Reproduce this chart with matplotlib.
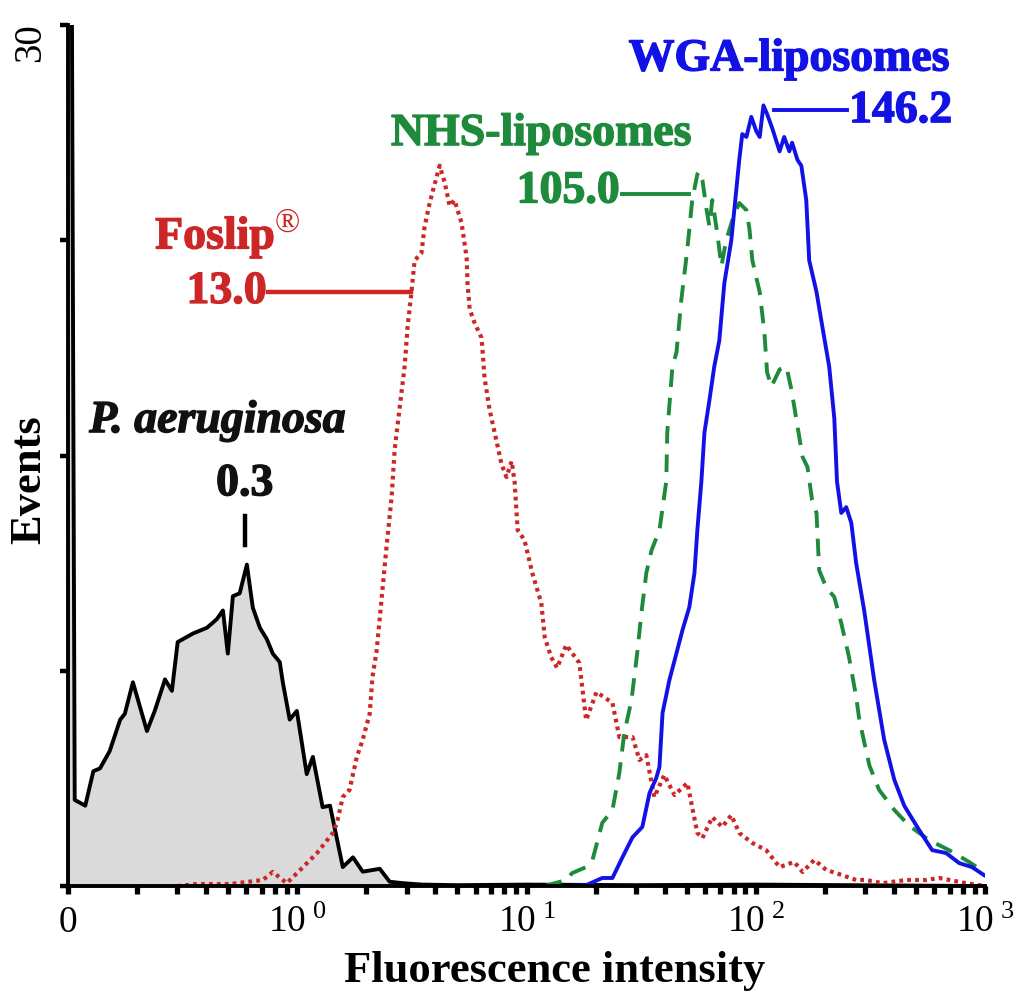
import matplotlib
matplotlib.use("Agg")
import matplotlib.pyplot as plt
import matplotlib.transforms as mtransforms
import matplotlib.patheffects as pe
from matplotlib.ticker import LogLocator, NullFormatter

plt.rcParams["font.family"] = ["Liberation Serif", "DejaVu Serif"]
plt.rcParams["mathtext.fontset"] = "custom"
plt.rcParams["mathtext.rm"] = "Liberation Serif"
plt.rcParams["mathtext.it"] = "Liberation Serif:italic"
plt.rcParams["mathtext.bf"] = "Liberation Serif:bold"

# P. aeruginosa (untreated) histogram
pa_x = [0.1, 0.104, 0.107, 0.119, 0.129, 0.138, 0.152, 0.169, 0.177, 0.192,
        0.221, 0.239, 0.265, 0.284, 0.301, 0.351, 0.404, 0.446, 0.474, 0.498,
        0.524, 0.561, 0.603, 0.640, 0.687, 0.737, 0.782, 0.839, 0.865, 0.927,
        0.996, 1.10, 1.17, 1.29, 1.39, 1.58, 1.75, 1.93, 2.29, 2.53,
        2.88, 3.5, 5.0, 10.0, 30.0, 100.0, 1000.0]
pa_y = [31.0, 31.0, 3.0, 2.8, 4.0, 4.1, 4.7, 5.8, 6.0, 7.1,
        5.4, 6.1, 7.2, 6.8, 8.5, 8.8, 9.0, 9.3, 9.6, 8.1,
        10.1, 10.2, 11.2, 9.7, 9.0, 8.6, 8.1, 7.8, 7.1, 5.8,
        6.1, 3.9, 4.5, 2.75, 2.8, 0.66, 1.0, 0.5, 0.6, 0.15,
        0.1, 0.05, 0.03, 0.05, 0.03, 0.05, 0.0]

# Foslip
fos_x = [0.30, 0.365, 0.508, 0.708, 0.782, 0.900, 1.03, 1.22, 1.43, 1.49,
         1.58, 1.69, 1.82, 1.93, 2.07, 2.13, 2.22, 2.45, 2.58, 2.66,
         2.80, 2.94, 3.03, 3.15, 3.25, 3.48, 3.59, 3.78, 4.05, 4.18,
         4.40, 4.62, 4.85, 5.21, 5.48, 5.53, 5.65, 5.95, 6.37, 6.56,
         6.90, 7.26, 7.78, 8.18, 8.61, 8.87, 9.15, 9.80, 10.6, 11.6,
         12.0, 12.8, 13.6, 14.9, 17.0, 18.2, 20.2, 23.7, 25.4, 29.0,
         31.1, 33.3, 36.1, 39.9, 44.2, 50.3, 55.6, 58.5, 64.6, 71.4,
         78.2, 84.7, 96.6, 111, 127, 147, 160, 180, 203, 238,
         274, 303, 356, 453, 553, 631, 826, 1000]
fos_y = [0.0, 0.07, 0.07, 0.21, 0.49, 0.10, 0.56, 1.15, 1.85, 2.2,
         3.1, 3.35, 4.5, 5.1, 6.0, 7.3, 8.2, 11.8, 13.55, 15.2,
         16.7, 18.1, 19.5, 20.7, 21.8, 22.05, 22.96, 23.8, 24.7, 25.1,
         24.5, 23.7, 23.9, 23.1, 21.9, 21.0, 20.1, 19.6, 19.1, 17.7,
         16.6, 15.8, 14.7, 14.25, 14.8, 14.1, 12.4, 12.05, 10.9, 9.86,
         8.68, 7.98, 7.6, 8.4, 7.77, 5.78, 6.76, 6.38, 5.19, 5.19,
         4.39, 4.56, 3.10, 3.87, 3.17, 3.59, 1.85, 1.67, 2.40, 2.06,
         2.47, 1.85, 1.50, 1.25, 0.66, 0.84, 0.49, 0.91, 0.56, 0.38,
         0.21, 0.21, 0.10, 0.21, 0.21, 0.28, 0.10, 0.0]

# NHS-liposomes
nhs_x = [12.0, 14.9, 15.8, 18.2, 19.4, 21.4, 23.7, 25.4, 26.7, 28.7,
         30.5, 31.7, 33.3, 35.1, 38.0, 40.7, 41.1, 43.3, 45.1, 47.3,
         50.3, 52.8, 55.6, 56.7, 58.5, 60.9, 62.7, 64.6, 67.9, 70.8,
         74.3, 79.0, 84.7, 91.0, 93.8, 96.6, 100.5, 104, 109, 112,
         117, 127, 136, 143, 150, 160, 168, 176, 184, 189,
         203, 220, 236, 255, 274, 283, 313, 345, 402, 467,
         570, 697, 851, 990]
nhs_y = [0.0, 0.21, 0.45, 0.66, 0.91, 2.2, 2.65, 3.94, 5.33, 6.48,
         8.22, 9.51, 10.9, 11.7, 12.4, 14.1, 15.8, 18.1, 18.6, 20.4,
         22.2, 23.9, 24.8, 24.9, 24.6, 23.6, 23.0, 23.9, 22.75, 21.6,
         22.5, 23.2, 23.8, 23.55, 22.9, 21.8, 21.2, 20.7, 19.3, 17.9,
         17.4, 18.0, 18.1, 17.3, 16.3, 14.95, 14.6, 13.45, 13.0, 11.0,
         10.4, 10.07, 9.16, 7.98, 6.59, 5.78, 4.2, 3.35, 2.65, 2.1,
         1.6, 1.25, 0.84, 0.49]

# WGA-liposomes
wga_x = [15.0, 18.2, 21.4, 23.7, 26.2, 29.0, 32.0, 34.4, 36.8, 38.0,
         39.2, 42.0, 45.1, 47.9, 51.3, 54.0, 55.6, 57.9, 59.7, 62.7,
         65.9, 69.3, 72.9, 78.2, 84.7, 87.3, 91.0, 95.6, 100.5, 104,
         108, 112, 118, 127, 133, 140, 144, 152, 158, 166,
         171, 184, 195, 209, 220, 226, 236, 248, 261, 274,
         297, 328, 363, 402, 444, 516, 588, 676, 771, 877, 990]
wga_y = [0.0, 0.03, 0.28, 0.28, 1.0, 1.7, 2.06, 3.24, 3.76, 4.15,
         6.03, 7.18, 8.12, 8.92, 9.72, 10.9, 12.4, 14.1, 15.8, 16.9,
         18.1, 19.0, 21.0, 22.5, 25.3, 26.2, 26.1, 26.8, 26.3, 26.1,
         27.2, 26.9, 26.4, 25.6, 26.1, 25.6, 25.9, 25.3, 25.1, 23.9,
         21.8, 20.7, 19.5, 18.1, 16.3, 14.1, 13.0, 13.2, 12.65, 11.25,
         9.6, 7.2, 5.1, 3.7, 2.8, 1.95, 1.25, 1.15, 0.8, 0.66, 0.38]

RED = "#cc2626"
GREEN = "#1e8a3c"
BLUE = "#1212e6"

fig = plt.figure(figsize=(10.19, 9.97), dpi=100)
ax = fig.add_axes([0.0667, 0.1113, 0.9, 0.8636])

ax.fill_between(pa_x, pa_y, 0, color="#dadada", lw=0)
ax.plot(pa_x, pa_y, color="black", lw=2.8)
ax.plot(fos_x, fos_y, color=RED, lw=3.0, linestyle=(0, (0.9, 1.0)))
ax.plot(nhs_x, nhs_y, color=GREEN, lw=2.8, linestyle=(0, (4.5, 2.8)))
ax.plot(wga_x, wga_y, color=BLUE, lw=2.8)

ax.set_xscale("log")
ax.set_xlim(0.1, 1000)
ax.set_ylim(0, 30)

ax.spines["top"].set_visible(False)
ax.spines["right"].set_visible(False)
ax.spines["left"].set_linewidth(2.8)
ax.spines["bottom"].set_linewidth(2.8)

ax.set_xticks([0.1, 1, 10, 100, 1000])
ax.set_xticklabels(["0", r"$10^{\ 0}$", r"$10^{\ 1}$", r"$10^{\ 2}$", r"$10^{\ 3}$"],
                   fontsize=27)
ax.xaxis.set_minor_locator(LogLocator(base=10, subs=range(2, 10)))
ax.xaxis.set_minor_formatter(NullFormatter())
ax.tick_params(axis="x", which="both", direction="out", length=6, width=3.8, pad=8)

ax.set_yticks([0, 7.5, 15, 22.5, 30])
ax.set_yticklabels([])
ax.tick_params(axis="y", direction="out", length=6, width=3.2)
trans = mtransforms.blended_transform_factory(ax.transAxes, ax.transData)
ax.text(-0.041, 29.4, "30", transform=trans, rotation=90, fontsize=28,
        ha="center", va="center", clip_on=False)

ax.set_xlabel("Fluorescence intensity", fontsize=32, fontweight="bold")
ax.xaxis.set_label_coords(0.531, -0.075)
ax.set_ylabel("Events", fontsize=32, fontweight="bold")
ax.yaxis.set_label_coords(-0.02, 0.4715)


def heavy(color):
    return dict(fontweight="bold", fontsize=33, color=color,
                path_effects=[pe.withStroke(linewidth=1.0, foreground=color)])


# P. aeruginosa
ax.text(0.45, 16.2, "P. aeruginosa", style="italic", ha="center", va="center",
        **heavy("#111111"))
ax.text(0.59, 14.0, "0.3", ha="center", va="center", **heavy("#111111"))
ax.plot([0.59, 0.59], [11.9, 12.9], color="black", lw=3.2)

# Foslip
ax.text(0.80, 22.6, "Foslip", ha="right", va="center", **heavy(RED))
ax.text(0.80, 23.1, "®", color=RED, ha="left", va="center", fontsize=24)
ax.text(0.735, 20.7, "13.0", ha="right", va="center", **heavy(RED))
ax.plot([0.745, 3.15], [20.7, 20.7], color=RED, lw=3.2)

# NHS-liposomes
ax.text(11.6, 26.2, "NHS-liposomes", ha="center", va="center", **heavy(GREEN))
ax.text(25.5, 24.2, "105.0", ha="right", va="center", **heavy(GREEN))
ax.plot([26.0, 51.3], [24.1, 24.1], color=GREEN, lw=2.8)

# WGA-liposomes
ax.text(140, 28.8, "WGA-liposomes", ha="center", va="center", **heavy(BLUE))
ax.text(255, 27.0, "146.2", ha="left", va="center", **heavy(BLUE))
ax.plot([120, 251], [27.04, 27.04], color=BLUE, lw=2.8)

fig.savefig("out.png", dpi=100)
